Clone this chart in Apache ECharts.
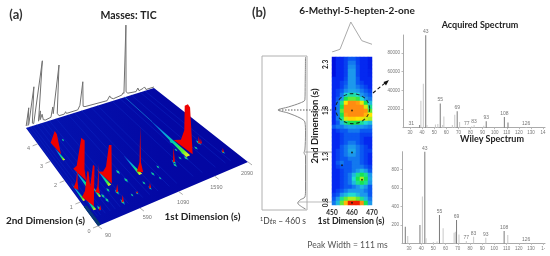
<!DOCTYPE html>
<html><head><meta charset="utf-8">
<style>html,body{margin:0;padding:0;background:#fff;overflow:hidden}#c{width:550px;height:256px;filter:blur(.45px)}</style>
<script src="https://cdn.jsdelivr.net/npm/echarts@6/dist/echarts.min.js"></script></head>
<body><div id="c"></div>
<script>
/* ---------- panel (a): 3-D surface, units: t1 (s), t2 (s), intensity ---------- */
var t1Ticks=[90,590,1090,1590,2090];
var t2Ticks=[0,1,2,3,4];
var ticT1=[90,100,115,125,145,175,195,235,262,275,285,305,330,360,440,455,470,500,530,560,640,655,670,840,870,895,920,950,1300,1340,1355,1400,1540,1560,1575,1592,1610,1640,1780,1810,1830,1900,1925,1950,2090];
var ticI=[2,20,2,3,40,3,2,64,3,13,4,9,3,2,3,13,6,54,5,2,2,4,2,2,6,29,4,3,2,6,4,2,3,5,4,72,5,3,2,5,2,3,4,1,1];
var faintT1=[110,150,185,240,300,360,420,520,700,790,900,1050,1150,1380,1510,1700,1850,1930];
/* streaks: t1, front t2, back t2, half width in t1, t1 drift towards the back */
var streakA=[1552,1.12,3.4,30,30];
var streakB=[885,1.14,2.1,20,8];
var streakC=[490,1.18,2.0,18,8];
var streakD=[270,1.3,2.3,20,0];
var streakE=[240,2.85,3.5,14,0];
var streakF=[135,1.0,1.8,12,0];
var streakG=[170,.55,1.1,16,0];
var streakH=[312,.92,1.6,12,0];
/* ridges: closed outlines of t1, t2, intensity */
var ridgeA=[[1620,1.12,0],[1625,1.16,46],[1605,1.2,49],[1575,1.27,47],[1590,1.4,20],[1590,1.6,7],[1590,2,0]];
var ridgeB=[[930,1.18,0],[905,1.2,10],[900,1.22,46],[895,1.24,10],[875,1.3,0]];
var ridgeC=[[525,1.22,0],[515,1.25,38],[500,1.33,37],[490,1.42,14],[495,1.6,5],[490,1.85,0]];
var ridgeD=[[300,1.7,0],[290,1.78,10],[300,1.9,36],[270,1.98,38],[255,2.1,8],[265,2.35,0]];
var ridgeE=[[255,3.15,0],[255,3.3,5],[258,3.55,13],[245,3.65,15],[235,3.7,9],[240,3.85,0]];
var ridgeF=[[155,1.45,0],[145,1.48,8],[140,1.5,24],[135,1.52,8],[125,1.6,0]];
var ridgeG=[[185,.68,0],[183,.72,39],[172,.76,40],[168,.85,16],[155,.92,30],[150,.96,30],[150,1.05,8],[140,1.15,0]];
var ridgeH=[[335,1.03,0],[322,1.06,6],[318,1.08,29],[314,1.1,6],[300,1.15,0]];
/* small peaks: t1, t2, intensity */
var spikeT1=[505,480,214,851,1342,1825,1962,1840,685];
var spikeT2=[.84,.43,.47,.52,1.11,1.47,.74,1.42,.53];
var spikeI=[8,7,5,5,15,7,4,5,2];
/* spots: t1, t2, size */
var spotT1=[505,480,350,219,851,1342,1825,1962,683,691,1009,838,1128,1539,1320,1535,1827,396,685,343,436,1731,1509,1447,1497,1040,622];
var spotT2=[.84,.43,.71,.55,.52,1.11,1.47,.74,1.56,1.14,.98,.78,1.16,1.96,.98,1.32,1.53,3.78,.53,.9,1.04,1.32,1.08,1.17,1.55,.72,.53];
var spotS=[1,1,.9,.9,.7,1,1,.8,1,1,.9,.7,.7,.8,.9,1.2,.9,.7,.6,.9,.8,.8,1,.7,.7,.6,.6];

/* ---------- panel (b) ---------- */
var profileT2=[2.376,2.09,1.91,1.876,1.833,1.8,1.767,1.713,1.67,1.55,1.365,1.336,1.3,.93,.854,.822,.789,.749,.724];
var profileI=[0,.01,.02,.18,.57,.92,.58,.18,.02,0,.02,.05,0,0,.02,.18,.26,.13,0];
var topT1=[450,454,459.4,464.9,470];
var topI=[0,.09,1,.377,.257];
var heatT1=[450,452,454,456,458,460,462,464,466,468];
var heatT2=[2.34,2.3,2.25,2.21,2.17,2.12,2.08,2.04,1.99,1.95,1.91,1.86,1.82,1.78,1.73,1.69,1.65,1.6,1.56,1.52,1.47,1.43,1.39,1.34,1.3,1.26,1.21,1.17,1.13,1.08,1.04,1,.95,.91,.87,.82,.78];
var heatRows=[
[0,1,1,1.5,2,2,1.5,1,1,.5],
[0,1,1,1.5,2.5,2.5,1.5,1,1,.5],
[0,1,1,1.5,2.8,2.8,1.7,1,1,.5],
[0,1,1,1.5,3,3,1.7,1,1,.7],
[0,1,1,1.5,3,3,1.7,1,1,.7],
[1,1,1,1.7,3,3,2,1,1,1],
[1,1,1.5,2,3,3,2,1.5,1,1],
[1,1,1.5,2.3,3,3,2.5,2,1.5,1],
[1,1.5,2,2.8,3.2,3.2,3,2.5,2,1.5],
[1,1.5,2.5,3.8,4.3,4.3,4,3,2.5,2],
[1,2,3,5,5.5,5.5,5.2,4,3,2.5],
[1,2.5,4.5,7,8,8,7.8,6.8,5,3.5],
[1,2.5,5,8,8,8,8,8,6.5,4.5],
[1,2.5,5.5,8,8,8,8,8,7.9,5.5],
[1,2.5,5,7.8,8,8,8,8,7.5,7],
[1,2.5,4.5,6.5,7.2,7.2,7,6.8,6.5,6],
[1,2,3.5,4.5,5,5,5,4.5,4,3.5],
[2,2.5,2.5,3,3.2,3.2,3,3,2.8,2.5],
[1,1.5,2,2,2.5,2.5,2.5,2,2,2],
[1,1,1.5,2,2,2,2,1.5,1.5,1.5],
[1,1,1.5,2,2,2,2,1.5,1,1],
[1,1,1.5,2,2.5,2.5,2,1.5,1,1],
[1,1,2,2.5,3,3,2.5,2,1.5,1],
[1,1.5,2,2.5,3.2,3.2,2.5,2,1.5,1.5],
[1,1.5,2,2.5,3,3,2.5,2,1.5,1],
[1,1.5,2,2,2.5,2.5,2.5,2,1.5,1],
[1,2,2.5,2,2,2.5,2.5,2,1.5,1],
[1,1.5,2,2,2,2.5,2.5,2.5,2,1.5],
[1,1,1.5,2,2,2.5,3,3.5,3,2],
[1,1,1.5,2,2.5,3.5,4.5,5,4.5,3],
[1,1,1.5,2,2.5,4,5,6,5,3.2],
[1,1,1.5,2,2.5,3.5,4.5,5,4.5,3],
[1,1,1.5,2,2,2.5,3,3.5,3,2],
[1,1.5,2,2.5,3,3,3,3,2.5,2],
[1.5,2,3,3.5,4,4,3.5,3,3,2],
[2,3,4.5,5.5,6,6,5.5,4.5,3.5,2.5],
[2.5,3.5,5.5,7.5,9,9,9,8,5,3]];
var spotDotsT1=[460,460,455,465,460];
var spotDotsT2=[1.8,1.343,1.205,1.05,.8];
var acqMz=[31,38,39,41,43,44,51,53,55,57,58,65,67,69,71,77,81,83,91,93,108,111,126];
var acqI=[800,3000,29000,47000,98900,3000,3500,4000,26000,3000,12000,3000,14000,17500,6000,800,1500,3000,2000,7000,11500,5500,800];
var acqLight=[1,0,1,1,0,1,1,1,0,1,1,1,1,0,1,1,1,1,1,0,0,0,1];
var acqLabels=[31,43,55,69,77,83,93,108,126];
var wileyMz=[27,29,39,41,43,44,50,53,55,58,67,68,69,71,77,83,93,108,111,126];
var wileyI=[182,80,200,509,1000,55,15,20,309,164,116,127,255,98,25,73,62,135,91,8];
var wileyLight=[0,1,0,1,0,1,1,1,0,1,1,1,0,1,1,1,1,0,1,1];
var wileyLabels=[43,55,69,77,83,93,108,126];
var acqY=[20000,40000,60000,80000];
var wileyY=[200,400,600,800];
var mzTicks=[30,40,50,60,70,80,90,100,110,120,130,140];

/* ---------- perspective projection of the 3-D plot ---------- */
function P(t1,t2,z){
  var u=(t1-90)/2000,v=t2/5,w=.1657*u+.2935*v+1;
  var x=(191.1*u-64.4*v+98)/w,y=(-37.2*u-60.4*v+226)/w;
  z=z||0;
  return [x+(140-x)/(y+980)*z,y-z];
}
function poly(pts,style){return {type:'polygon',shape:{points:pts},style:style};}
var RED='#ee0000';
var ridges=[ridgeE,ridgeA,ridgeD,ridgeC,ridgeB,ridgeF,ridgeH,ridgeG];
var streaks=[streakA,streakB,streakC,streakD,streakE,streakF,streakG,streakH];
var idx=function(a){return a.map(function(_,i){return i;});};
function ridgeShape(r){return poly(r.map(function(p){return P(p[0],p[1],p[2]);}),{fill:RED});}

var FONT3='"Liberation Sans"',T='Lato';
var DARK='#222';
function txt(x,y,text,size,extra){
  var s={x:0,y:0,text:text,font:(extra&&extra.font)||('bold '+size+'px '+T),fill:(extra&&extra.fill)||DARK,textAlign:'center',textVerticalAlign:'middle'};
  return {type:'text',silent:true,rotation:(extra&&extra.rot)||0,x:x,y:y,style:s};
}
function specSeries(mz,ints,light,labels,xi){
  return {type:'bar',xAxisIndex:xi,yAxisIndex:xi,barWidth:1,silent:true,animation:false,
    data:mz.map(function(m,i){return {value:[m,ints[i]],itemStyle:{color:light[i]?'#c8c8c8':'#7a7a7a'},
      label:{show:labels.indexOf(m)>=0,position:'top',distance:1,formatter:String(m),fontSize:5,color:'#777',fontFamily:FONT3}};})};
}
function specAxes(g,xmin,xmax,ymax,yticks,last){
  return [{gridIndex:g,type:'value',min:xmin,max:xmax,splitLine:{show:false},
    axisLine:{lineStyle:{color:'#aaa',width:1}},axisTick:{customValues:mzTicks,length:1.5,lineStyle:{color:'#bbb'}},
    axisLabel:{customValues:mzTicks,margin:3,fontSize:4.5,color:'#777',fontFamily:FONT3,formatter:function(v){return v===140?last:String(v);}}},
   {gridIndex:g,type:'value',min:0,max:ymax,splitLine:{show:false},
    axisLine:{show:true,lineStyle:{color:'#aaa',width:1}},axisTick:{customValues:yticks,length:1.5,lineStyle:{color:'#bbb'}},
    axisLabel:{customValues:yticks,margin:3,fontSize:4.5,color:'#777',fontFamily:FONT3,formatter:function(v){return String(v);}}}];
}
function hiddenVal(g,min,max,inv){return {gridIndex:g,type:'value',min:min,max:max,inverse:!!inv,show:false,splitLine:{show:false}};}

var sa=specAxes(4,24.2,141.6,99300,acqY,'14'), sw=specAxes(5,24.3,141.5,996,wileyY,'1-');
var heatData=[];
heatRows.forEach(function(r,i){r.forEach(function(v,j){heatData.push([j,i,v]);});});

var option={animation:false,
 grid:[
  {left:262,top:56,width:45,height:154,show:true,borderColor:'#b0b0b0',borderWidth:1,backgroundColor:'transparent'},
  {left:332,top:20,width:40,height:32},
  {left:332,top:57,width:40,height:148},
  {left:332,top:57,width:40,height:148},
  {left:403,top:35,width:142,height:92.7},
  {left:402,top:151.7,width:143,height:91.7}],
 xAxis:[hiddenVal(0,-.05,1.45,true),hiddenVal(1,450,470),
  {gridIndex:2,type:'category',data:heatT1,show:false},
  {gridIndex:3,type:'value',min:450,max:470,splitLine:{show:false},axisLine:{show:false},axisTick:{show:false},
   axisLabel:{customValues:[450,460,470],margin:4,fontSize:6.5,fontWeight:'bold',color:'#222',fontFamily:T}},
  sa[0],sw[0]],
 yAxis:[hiddenVal(0,.713,2.387),hiddenVal(1,0,1.067),
  {gridIndex:2,type:'category',data:heatT2,inverse:true,show:false},
  {gridIndex:3,type:'value',min:.775,max:2.38,splitLine:{show:false},axisLine:{show:false},axisTick:{show:false},
   axisLabel:{customValues:[.8,1.3,1.8,2.3],rotate:90,margin:3,fontSize:6.5,fontWeight:'bold',color:'#222',fontFamily:T,formatter:function(v){return v.toFixed(1);}}},
  sa[1],sw[1]],
 visualMap:{show:false,seriesIndex:2,dimension:2,min:0,max:10,
  inRange:{color:['#0010e0','#0428f0','#0a58f2','#1c98ec','#20dcd0','#18e450','#a8f020','#ffe400','#ff8c10','#f02000','#b00000']}},
 series:[
  {type:'line',xAxisIndex:0,yAxisIndex:0,symbol:'none',smooth:.3,silent:true,lineStyle:{color:'#888',width:1},
   data:profileT2.map(function(t,i){return [profileI[i],t];})},
  {type:'line',xAxisIndex:1,yAxisIndex:1,symbol:'none',silent:true,lineStyle:{color:'#aaa',width:1},
   data:topT1.map(function(t,i){return [t,topI[i]];})},
  {type:'heatmap',xAxisIndex:2,yAxisIndex:2,silent:true,data:heatData,itemStyle:{borderWidth:0},progressive:0},
  {type:'scatter',xAxisIndex:3,yAxisIndex:3,symbolSize:2,silent:true,itemStyle:{color:'#111'},
   data:spotDotsT1.map(function(t,i){return [t,spotDotsT2[i]];})},
  {type:'scatter',xAxisIndex:3,yAxisIndex:3,symbolSize:[34,30],silent:true,
   itemStyle:{color:'rgba(0,0,0,0)',borderColor:'#111',borderWidth:1.1,borderType:[3.5,2.5]},data:[[460.3,1.82]]},
  specSeries(acqMz,acqI,acqLight,acqLabels,4),
  specSeries(wileyMz,wileyI,wileyLight,wileyLabels,5),
  /* 3-D plot */
  {type:'custom',coordinateSystem:'none',silent:true,data:[0],renderItem:function(){
    var kids=[poly([P(90,0),P(2090,0),P(2090,5),P(90,5)],{fill:{type:'linear',x:0,y:0,x2:1,y2:0,colorStops:[{offset:0,color:'#0414b0'},{offset:.6,color:'#0308a4'},{offset:1,color:'#0306a0'}]}})];
    kids.push(poly([P(90,0),P(125,0),P(125,.8),P(90,.8)],{fill:'#083a70'}));
    faintT1.forEach(function(t){var a=P(t,.3),b=P(t,5);
      kids.push({type:'line',shape:{x1:a[0],y1:a[1],x2:b[0],y2:b[1]},style:{stroke:'#0c26c0',lineWidth:.5}});});
    var a=P(1582,3.2),b=P(1590,5);kids.push({type:'line',shape:{x1:a[0],y1:a[1],x2:b[0],y2:b[1]},style:{stroke:'#1478d0',lineWidth:.8}});
    return {type:'group',children:kids};}},
  {type:'custom',coordinateSystem:'none',silent:true,data:idx(spotT1),renderItem:function(p){
    var i=p.dataIndex,t=spotT1[i],v=spotT2[i],s=spotS[i];
    function d(k,c){return poly([P(t-13*s*k,v),P(t,v-.1*s*k),P(t+13*s*k,v),P(t,v+.1*s*k)],{fill:c});}
    return {type:'group',children:[d(1.3,'#0460c8'),d(.85,'#10c8a0'),d(.5,'#30f050')]};}},
  {type:'custom',coordinateSystem:'none',silent:true,data:idx(streaks),renderItem:function(p){
    var s=streaks[p.dataIndex],a=P(s[0],s[1]),b=P(s[0],s[2]),e=s[0]+s[4];
    return poly([P(s[0]-s[3],s[1]),P(s[0]+s[3],s[1]),P(e+3,s[2]),P(e-3,s[2])],
     {fill:{type:'linear',global:true,x:a[0],y:a[1],x2:b[0],y2:b[1],colorStops:[{offset:0,color:'#f4f020'},{offset:.14,color:'#50f030'},{offset:.34,color:'#00d8a0'},{offset:.6,color:'#08a0e0'},{offset:1,color:'#0830c0'}]}});}},
  {type:'custom',coordinateSystem:'none',silent:true,data:idx(spikeT1),renderItem:function(p){
    var i=p.dataIndex,t=spikeT1[i],v=spikeT2[i];
    return poly([P(t-14,v),P(t,v,spikeI[i]),P(t+14,v)],{fill:RED});}},
  {type:'custom',coordinateSystem:'none',silent:true,data:idx(ridges),renderItem:function(p){return ridgeShape(ridges[p.dataIndex]);}},
  {type:'custom',coordinateSystem:'none',silent:true,data:[0],renderItem:function(){
    return {type:'polyline',shape:{points:ticT1.map(function(t,i){return P(t,5,ticI[i]);})},style:{stroke:'#707070',lineWidth:1,fill:null}};}},
  {type:'custom',coordinateSystem:'none',silent:true,data:[0],renderItem:function(){
    var kids=[];
    t1Ticks.forEach(function(t){var a=P(t,0),u=(t-90)/2000;
      kids.push({type:'line',shape:{x1:a[0],y1:a[1],x2:a[0]+4,y2:a[1]+3},style:{stroke:'#888',lineWidth:.7}});
      kids.push({type:'text',x:a[0]+10-11*u,y:a[1]+9+3*u,style:{text:String(t),font:'5.5px '+FONT3,fill:'#777',textAlign:'center',textVerticalAlign:'middle'}});});
    t2Ticks.forEach(function(t){var a=P(90,t);
      kids.push({type:'line',shape:{x1:a[0],y1:a[1],x2:a[0]-5,y2:a[1]+2},style:{stroke:'#888',lineWidth:.7}});
      kids.push({type:'text',x:a[0]-9,y:a[1]+5,style:{text:String(t),font:'5.5px '+FONT3,fill:'#777',textAlign:'center',textVerticalAlign:'middle'}});});
    return {type:'group',children:kids};}}
 ]
};
var chart=echarts.init(document.getElementById('c'),null,{renderer:'canvas'});
chart.setOption(option);
var yT=function(v){return chart.convertToPixel({yAxisIndex:0},v);};
function seg(x1,x2,y,color,dash,w){return {type:'line',shape:{x1:x1,y1:y,x2:x2,y2:y},silent:true,style:{stroke:color,lineWidth:w||.8,lineDash:dash||null}};}
chart.setOption({graphic:{elements:[
  txt(16,15,'(a)',13,{font:'bold 13px '+T,fill:'#333'}),
  txt(128.5,16,'Masses: TIC',10.5),
  txt(45.5,221,'2nd Dimension (s)',10),
  txt(202.5,217,'1st Dimension (s)',10),
  txt(259,13,'(b)',13,{font:'bold 13px '+T,fill:'#333'}),
  txt(357,11,'6-Methyl-5-hepten-2-one',10),
  txt(315,126,'2nd Dimension (s)',9.5,{rot:Math.PI/2}),
  {type:'text',silent:true,x:283,y:221,style:{x:0,y:0,text:'{s|1}D{i|t}{b|R} – 460 s',textAlign:'center',textVerticalAlign:'middle',font:'8.5px '+T,fill:'#444',
    rich:{s:{fontSize:5.5,verticalAlign:'top',fill:'#444',fontFamily:T},i:{fontSize:8.5,fontStyle:'italic',fill:'#444',fontFamily:T},b:{fontSize:5.5,verticalAlign:'bottom',fill:'#444',fontFamily:T}}}},
  txt(351,221,'1st Dimension (s)',8.8),
  txt(347.5,245,'Peak Width = 111 ms',8.5,{font:'8.5px '+T,fill:'#555'}),
  txt(480,25,'Acquired Spectrum',9),
  txt(492,139,'Wiley Spectrum',9),
  seg(279,352,yT(1.8),'#333',[1.5,1.5]),
  seg(305,351,yT(1.343),'#777',null,.6),
  seg(298,333,yT(.8),'#aaa',null,.8),
  {type:'line',silent:true,shape:{x1:373,y1:93,x2:385,y2:83},style:{stroke:'#111',lineWidth:1.1,lineDash:[3.5,2.5]}},
  {type:'polygon',silent:true,shape:{points:[[389,80],[383.5,82],[386,85.5]]},style:{fill:'#111'}}
]}});
</script></body></html>
